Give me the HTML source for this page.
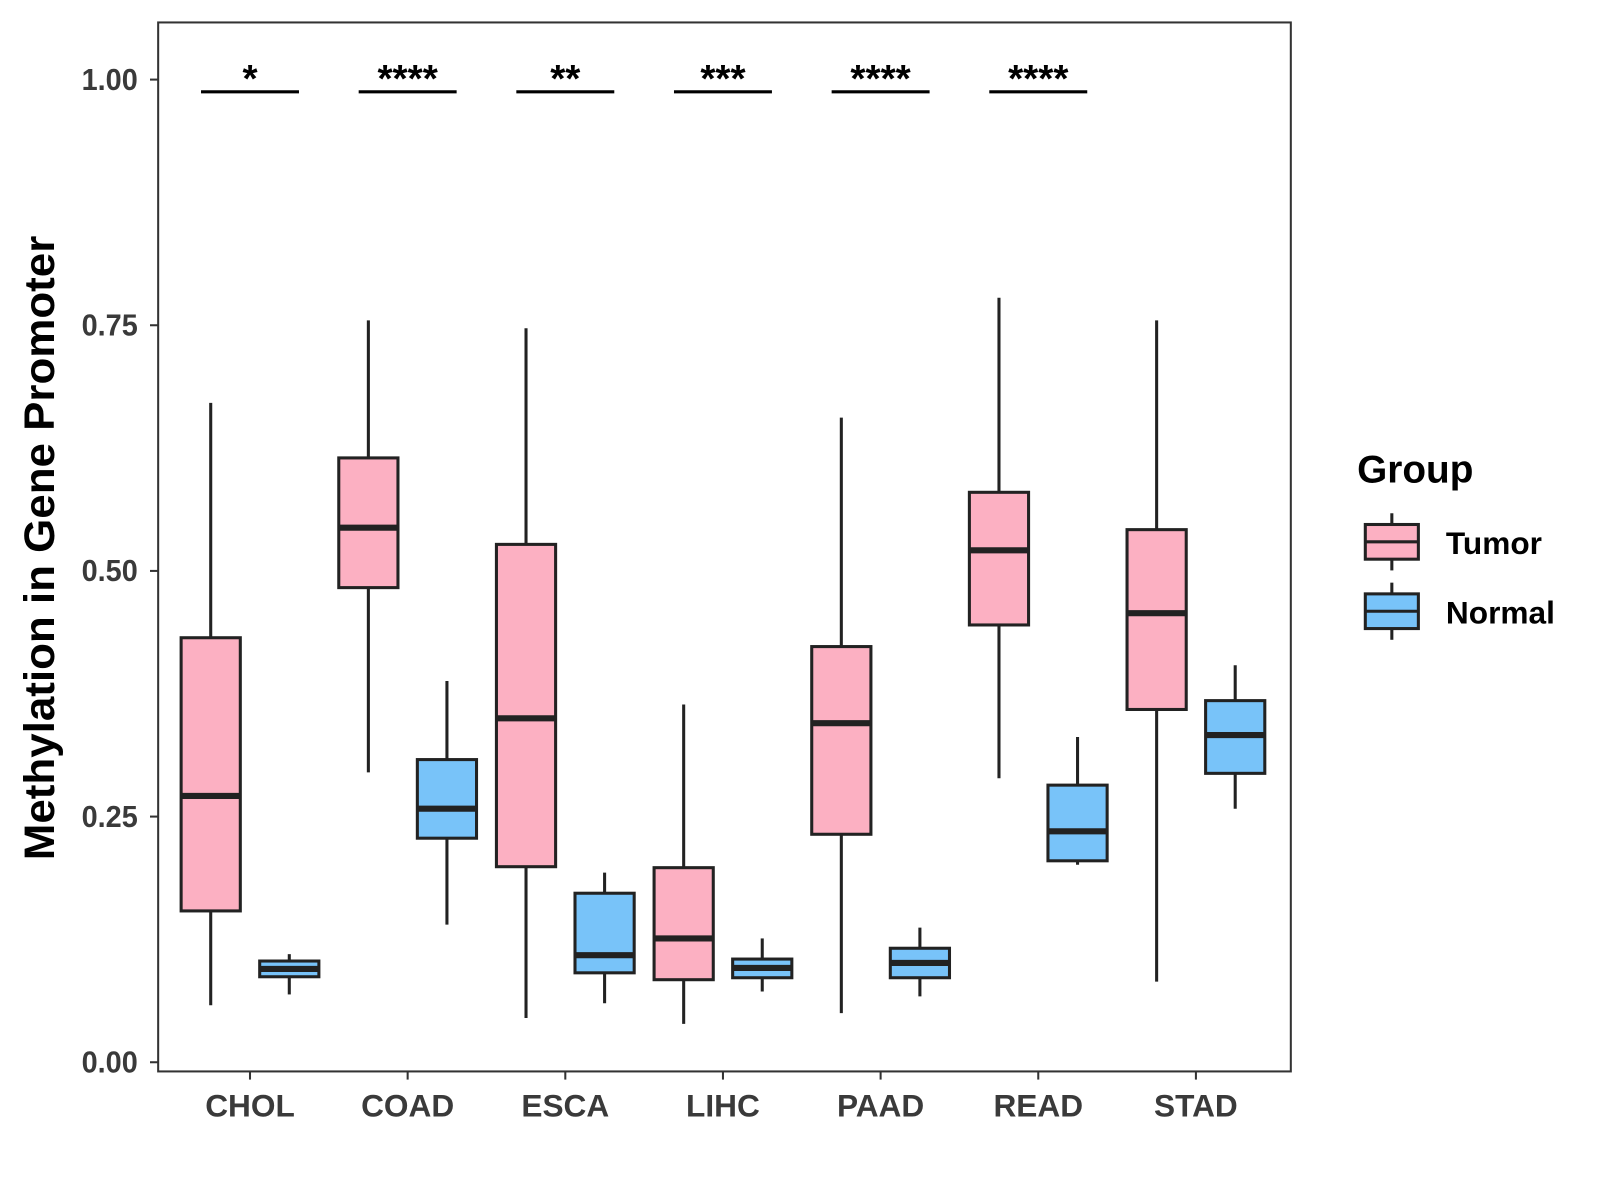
<!DOCTYPE html>
<html><head><meta charset="utf-8"><style>
html,body{margin:0;padding:0;background:#fff;}
svg{display:block;font-family:"Liberation Sans",Arial,sans-serif;}
</style></head><body>
<svg id="chart" width="1600" height="1200" viewBox="0 0 1568 1176" xmlns="http://www.w3.org/2000/svg">
<rect x="0" y="0" width="1568" height="1176" fill="#fff"/>
<g id="plot"></g>
</svg>
<script>
const categories = ["CHOL","COAD","ESCA","LIHC","PAAD","READ","STAD"];
// [low, q1, median, q3, high]
const tumorStats = [
 [0.058,0.154,0.271,0.432,0.671],
 [0.295,0.483,0.544,0.615,0.755],
 [0.045,0.199,0.350,0.527,0.747],
 [0.039,0.084,0.126,0.198,0.364],
 [0.050,0.232,0.345,0.423,0.656],
 [0.289,0.445,0.521,0.580,0.778],
 [0.082,0.359,0.457,0.542,0.755]
];
const normalStats = [
 [0.069,0.087,0.095,0.103,0.110],
 [0.140,0.228,0.258,0.308,0.388],
 [0.060,0.091,0.109,0.172,0.193],
 [0.072,0.086,0.096,0.105,0.126],
 [0.067,0.086,0.101,0.116,0.137],
 [0.201,0.205,0.235,0.282,0.331],
 [0.258,0.294,0.333,0.368,0.404]
];
const sigLabels = ["*","****","**","***","****","****"];
const yTicks = [0,0.25,0.5,0.75,1.0];
const yTickLabels = ["0.00","0.25","0.50","0.75","1.00"];

const NS="http://www.w3.org/2000/svg";
const g=document.getElementById('plot');
const P={l:155,t:22,r:1265,b:1050};
const y=v=>1041-v*963;
const x=i=>245+i*154.5;
const BW=58, OFF=38.5;
function mk(tag,attrs,parent){const e=document.createElementNS(NS,tag);for(const k in attrs)e.setAttribute(k,attrs[k]);(parent||g).appendChild(e);return e;}

const panel=mk('rect',{x:P.l,y:P.t,width:P.r-P.l,height:P.b-P.t,fill:'none',stroke:'#333',"stroke-width":2});



yTicks.forEach((v,i)=>{
 const t=mk('line',{x1:P.l-8,x2:P.l,y1:y(v),y2:y(v),stroke:'#333',"stroke-width":2});
 
 
 const tx=mk('text',{x:P.l-20,y:y(v)+10,"text-anchor":"end","font-size":30,"font-weight":"bold",fill:'#3a3a3a',textLength:55,lengthAdjust:'spacingAndGlyphs'});
 tx.textContent=yTickLabels[i];
 
 
});
categories.forEach((c,i)=>{
 const t=mk('line',{x1:x(i),x2:x(i),y1:P.b,y2:P.b+8,stroke:'#333',"stroke-width":2});
 
 
 const tx=mk('text',{x:x(i),y:P.b+44,"text-anchor":"middle","font-size":31,"font-weight":"bold",fill:'#3a3a3a'});
 tx.textContent=c;
 
 
});

function box(cx,s,fill,name){
 const grp=mk('g',{});
 
 
 mk('line',{x1:cx,x2:cx,y1:y(s[0]),y2:y(s[4]),stroke:'#222',"stroke-width":3},grp);
 mk('rect',{x:cx-BW/2,y:y(s[3]),width:BW,height:y(s[1])-y(s[3]),fill:fill,stroke:'#222',"stroke-width":3},grp);
 mk('line',{x1:cx-BW/2,x2:cx+BW/2,y1:y(s[2]),y2:y(s[2]),stroke:'#222',"stroke-width":6},grp);
}
categories.forEach((c,i)=>{
 box(x(i)-OFF,tumorStats[i],'#FCB0C2','tumor-box-'+c.toLowerCase());
 box(x(i)+OFF,normalStats[i],'#78C3F9','normal-box-'+c.toLowerCase());
});
sigLabels.forEach((s,i)=>{
 const l=mk('line',{x1:x(i)-48,x2:x(i)+48,y1:90,y2:90,stroke:'#000',"stroke-width":3});
 
 
 const t=mk('text',{x:x(i),y:90,"text-anchor":"middle","font-size":38,"font-weight":"bold",fill:'#000'});
 t.textContent=s;
 
 
});

const yt=mk('text',{x:0,y:0,transform:'translate(53,537) rotate(-90)',"text-anchor":"middle","font-size":42,"font-weight":"bold",fill:'#000',textLength:612,lengthAdjust:'spacingAndGlyphs'});
yt.textContent='Methylation in Gene Promoter';



const lg=mk('g',{});


const lt=mk('text',{x:1330,y:473,"font-size":38,"font-weight":"bold",fill:'#000'},lg);
lt.textContent='Group';


[['Tumor','#FCB0C2',531],['Normal','#78C3F9',599]].forEach(([n,f,cy])=>{
 const e=mk('g',{},lg);
 
 
 mk('line',{x1:1364,x2:1364,y1:cy-28,y2:cy+28,stroke:'#222',"stroke-width":3},e);
 mk('rect',{x:1338,y:cy-17,width:52,height:34,fill:f,stroke:'#222',"stroke-width":3},e);
 mk('line',{x1:1338,x2:1390,y1:cy,y2:cy,stroke:'#222',"stroke-width":3},e);
 const t=mk('text',{x:1417,y:cy+12,"font-size":31,"font-weight":"bold",fill:'#000'},e);
 t.textContent=n;
});
</script>
</body></html>
